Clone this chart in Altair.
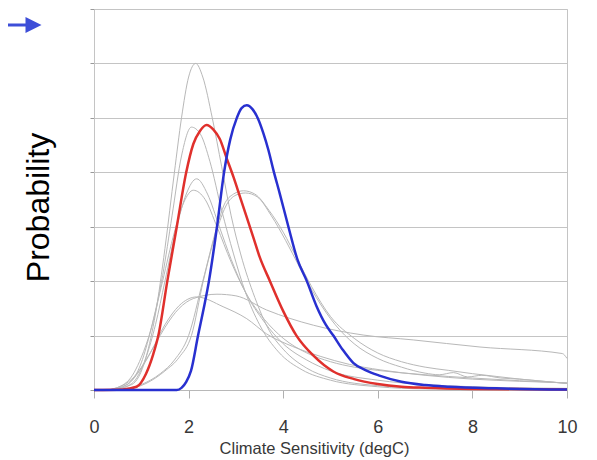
import altair as alt
import pandas as pd

# ---- data ----
blue_x = [0, 1.5, 1.75, 1.85, 1.95, 2.05, 2.2, 2.32, 2.43, 2.6, 2.75, 2.88, 3.02, 3.12, 3.23, 3.35, 3.47, 3.58, 3.69, 3.79, 3.93, 4.11, 4.3, 4.5, 4.7, 4.9, 5.06, 5.25, 5.48, 5.75, 6.05, 6.5, 7.0, 7.5, 8.5, 10]
blue_y = [0, 0, 0, 0.004, 0.015, 0.035, 0.1, 0.15, 0.2, 0.3, 0.4, 0.46, 0.5, 0.518, 0.523, 0.516, 0.498, 0.472, 0.44, 0.405, 0.36, 0.3, 0.24, 0.2, 0.155, 0.12, 0.1, 0.075, 0.05, 0.036, 0.026, 0.015, 0.009, 0.006, 0.003, 0.001]

red_x = [0, 0.6, 0.9, 1.1, 1.25, 1.36, 1.55, 1.75, 1.95, 2.1, 2.24, 2.38, 2.52, 2.66, 2.8, 2.95, 3.09, 3.23, 3.37, 3.5, 3.72, 4.0, 4.28, 4.64, 5.06, 5.5, 6.0, 6.5, 7.0, 8.0, 10]
red_y = [0, 0.001, 0.006, 0.03, 0.065, 0.1, 0.2, 0.3, 0.4, 0.452, 0.476, 0.487, 0.479, 0.461, 0.427, 0.391, 0.354, 0.317, 0.28, 0.245, 0.2, 0.145, 0.1, 0.063, 0.034, 0.02, 0.011, 0.006, 0.004, 0.002, 0.001]

g1_x = [0.3, 0.8, 1.1, 1.3, 1.5, 1.7, 1.85, 2.0, 2.15, 2.3, 2.5, 2.7, 2.9, 3.1, 3.4, 3.7, 4.0, 4.5, 5.0, 6.0, 7.0, 10]
g1_y = [0, 0.01, 0.06, 0.14, 0.26, 0.4, 0.5, 0.575, 0.6, 0.575, 0.5, 0.41, 0.32, 0.25, 0.17, 0.11, 0.075, 0.04, 0.022, 0.008, 0.004, 0.001]

g2_x = [0.3, 0.7, 1.0, 1.2, 1.45, 1.65, 1.85, 2.06, 2.25, 2.45, 2.7, 2.95, 3.2, 3.5, 3.9, 4.4, 5.0, 6.0, 7.0, 10]
g2_y = [0, 0.01, 0.05, 0.11, 0.21, 0.32, 0.43, 0.483, 0.47, 0.42, 0.33, 0.25, 0.18, 0.12, 0.07, 0.037, 0.018, 0.006, 0.002, 0]

g3_x = [0.4, 0.8, 1.1, 1.3, 1.5, 1.75, 1.95, 2.17, 2.4, 2.65, 2.9, 3.2, 3.6, 4.0, 4.5, 5.0, 6.0, 7.0, 8.0, 10]
g3_y = [0, 0.012, 0.06, 0.12, 0.2, 0.3, 0.36, 0.388, 0.36, 0.3, 0.24, 0.18, 0.125, 0.085, 0.055, 0.035, 0.018, 0.01, 0.006, 0.003]

g4_x = [0.3, 0.7, 1.0, 1.2, 1.45, 1.7, 1.9, 2.1, 2.35, 2.6, 2.9, 3.2, 3.6, 4.0, 4.5, 5.0, 5.5, 6.0, 7.0, 8.0, 9.0, 10]
g4_y = [0, 0.015, 0.06, 0.11, 0.2, 0.29, 0.345, 0.367, 0.35, 0.3, 0.235, 0.18, 0.13, 0.095, 0.068, 0.052, 0.042, 0.036, 0.028, 0.022, 0.017, 0.013]

g5_x = [0.5, 1.0, 1.4, 1.7, 2.0, 2.3, 2.6, 2.75, 2.95, 3.16, 3.4, 3.7, 4.0, 4.3, 4.6, 5.0, 5.5, 6.0, 6.5, 7.0, 7.5, 8.0, 8.5, 9.0, 9.5, 10]
g5_y = [0, 0.01, 0.03, 0.055, 0.1, 0.2, 0.3, 0.34, 0.36, 0.366, 0.36, 0.33, 0.29, 0.24, 0.19, 0.135, 0.095, 0.068, 0.052, 0.042, 0.036, 0.03, 0.025, 0.02, 0.016, 0.012]

g6_x = [0.6, 1.1, 1.5, 1.8, 2.06, 2.31, 2.62, 2.8, 3.0, 3.2, 3.45, 3.75, 4.05, 4.35, 4.7, 5.1, 5.5, 6.0, 6.5, 7.0, 7.3, 7.6, 7.9, 8.2, 8.6, 9.0, 9.5, 10]
g6_y = [0, 0.012, 0.035, 0.06, 0.1, 0.2, 0.3, 0.34, 0.358, 0.362, 0.355, 0.32, 0.275, 0.225, 0.17, 0.12, 0.085, 0.058, 0.042, 0.031, 0.028, 0.032, 0.024, 0.027, 0.022, 0.02, 0.016, 0.012]

g7_x = [0.3, 0.7, 1.0, 1.3, 1.5, 1.8, 2.1, 2.6, 3.0, 3.65, 4.64, 5.69, 6.75, 8.16, 9.9, 10]
g7_y = [0, 0.01, 0.04, 0.085, 0.115, 0.15, 0.168, 0.176, 0.173, 0.147, 0.119, 0.101, 0.092, 0.079, 0.067, 0.058]

g8_x = [0.3, 0.8, 1.2, 1.5, 1.8, 2.17, 2.73, 3.23, 3.65, 4.2, 4.78, 5.4, 6.05, 7.0, 8.0, 9.0, 10]
g8_y = [0, 0.02, 0.07, 0.12, 0.155, 0.171, 0.153, 0.131, 0.103, 0.08, 0.062, 0.047, 0.037, 0.027, 0.02, 0.016, 0.013]

x_ticks = [0, 2, 4, 6, 8, 10]
y_grid = [0, 0.1, 0.2, 0.3, 0.4, 0.5, 0.6, 0.7]

# ---- tables ----
grey_sets = {"g1": (g1_x, g1_y), "g2": (g2_x, g2_y), "g3": (g3_x, g3_y), "g4": (g4_x, g4_y),
             "g5": (g5_x, g5_y), "g6": (g6_x, g6_y), "g7": (g7_x, g7_y), "g8": (g8_x, g8_y)}
rows = []
for name, (xs, ys) in grey_sets.items():
    for i, (a, b) in enumerate(zip(xs, ys)):
        rows.append({"curve": name, "x": a, "y": b, "o": i})
grey_df = pd.DataFrame(rows)
red_df = pd.DataFrame({"x": red_x, "y": red_y, "o": range(len(red_x))})
blue_df = pd.DataFrame({"x": blue_x, "y": blue_y, "o": range(len(blue_x))})
one = pd.DataFrame({"a": [0]})

FONT = "Liberation Sans"

x_enc = alt.X("x:Q", scale=alt.Scale(domain=[0, 10], nice=False),
              axis=alt.Axis(values=x_ticks, grid=False, tickSize=8, tickColor="#b0b0b0",
                            domainColor="#b8b8b8", labelFontSize=18, labelColor="#383838",
                            labelFont=FONT, labelBaseline="alphabetic", labelPadding=34,
                            labelFlush=False,
                            title="Climate Sensitivity (degC)", titleFont=FONT,
                            titleFontSize=16.5, titleFontWeight="normal", titleColor="#383838",
                            titleX=220, titleY=63, titleAlign="center",
                            titleBaseline="alphabetic"))
y_enc = alt.Y("y:Q", scale=alt.Scale(domain=[0, 0.7], nice=False),
              axis=alt.Axis(values=y_grid, labels=False, grid=True, gridColor="#c4c4c4",
                            tickSize=4, tickColor="#999999", domainColor="#c4c4c4",
                            title="Probability", titleFont=FONT, titleFontSize=32,
                            titleFontWeight="normal", titleColor="#000000", titleAngle=270,
                            titleX=-56, titleY=198, titleAlign="center",
                            titleBaseline="middle"))

grey = alt.Chart(grey_df).mark_line(color="#b8b8b8", strokeWidth=1, interpolate="monotone").encode(
    x=x_enc, y=y_enc, detail="curve:N", order="o:Q")
red = alt.Chart(red_df).mark_line(color="#e0302c", strokeWidth=2.5, interpolate="monotone").encode(
    x="x:Q", y="y:Q", order="o:Q")
blue = alt.Chart(blue_df).mark_line(color="#2830d0", strokeWidth=2.5, interpolate="monotone").encode(
    x="x:Q", y="y:Q", order="o:Q")

arrow_line = alt.Chart(one).mark_rule(color="#3d4ed8", strokeWidth=3).encode(
    x=alt.value(-86), x2=alt.value(-64), y=alt.value(16))
arrow_head = alt.Chart(one).mark_point(shape="M -1 -1 L 1 0 L -1 1 Z", filled=True, opacity=1,
                                       color="#3d4ed8", size=256, strokeWidth=0).encode(
    x=alt.value(-60.5), y=alt.value(16))

chart = alt.layer(grey, red, blue, arrow_line, arrow_head).properties(
    width=473, height=381,
    autosize=alt.AutoSizeParams(type="none"),
    padding={"left": 86, "top": 1, "right": 22, "bottom": 72},
).configure_view(stroke="#c4c4c4")

chart.save("out.html", embed_options={"renderer": "svg", "actions": False})
